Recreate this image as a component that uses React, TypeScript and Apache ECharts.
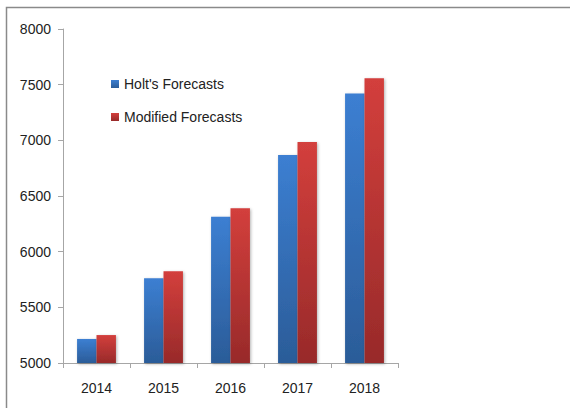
import React, { useEffect, useRef } from "react";
import * as echarts from "echarts";

const categories = ["2014", "2015", "2016", "2017", "2018"];
const holtForecasts = [5216, 5761, 6314, 6869, 7420];
const modifiedForecasts = [5251, 5824, 6390, 6986, 7558];
const seriesNames = ["Holt's Forecasts", "Modified Forecasts"];

const FONT = "'Liberation Sans', Arial, sans-serif";

export default function App() {
  const ref = useRef<HTMLDivElement>(null);
  useEffect(() => {
    if (!ref.current) return;
    const chart = echarts.init(ref.current, null, { renderer: "svg" });
    const grad = (top: string, bottom: string) =>
      new echarts.graphic.LinearGradient(0, 0, 0, 1, [
        { offset: 0, color: top },
        { offset: 1, color: bottom },
      ]);
    const shadow = {
      shadowBlur: 3,
      shadowColor: "rgba(0,0,0,0.3)",
      shadowOffsetX: 1,
      shadowOffsetY: 1,
    };
    chart.setOption({
      animation: false,
      backgroundColor: "#ffffff",
      textStyle: { fontFamily: FONT },
      graphic: [
        {
          type: "rect",
          shape: { x: 6.5, y: 7.5, width: 600, height: 450 },
          style: { fill: "none", stroke: "#8a8a8a", lineWidth: 1.5 },
          silent: true,
        },
      ],
      legend: {
        orient: "vertical",
        left: 111,
        top: 77,
        padding: 0,
        itemWidth: 8,
        itemHeight: 8,
        itemGap: 19,
        icon: "rect",
        textStyle: { fontSize: 14, color: "#222", fontFamily: FONT },
        data: seriesNames,
      },
      grid: { left: 63, right: 172, top: 29, bottom: 45 },
      xAxis: {
        type: "category",
        data: categories,
        boundaryGap: true,
        axisLine: { lineStyle: { color: "#a6a6a6", width: 1 } },
        axisTick: { show: true, length: 5, lineStyle: { color: "#a6a6a6" } },
        axisLabel: { fontSize: 14, color: "#222", margin: 18, fontFamily: FONT },
      },
      yAxis: {
        type: "value",
        min: 5000,
        max: 8000,
        interval: 500,
        splitLine: { show: false },
        axisLine: { show: true, lineStyle: { color: "#a6a6a6", width: 1 } },
        axisTick: { show: true, length: 5, lineStyle: { color: "#a6a6a6" } },
        axisLabel: {
          fontSize: 14,
          color: "#222",
          margin: 12,
          fontFamily: FONT,
          formatter: (v: number) => String(v),
        },
      },
      series: [
        {
          name: seriesNames[0],
          type: "bar",
          data: holtForecasts,
          barGap: "0%",
          barCategoryGap: "42%",
          itemStyle: { color: grad("#3c7fd2", "#2b5c98"), ...shadow },
        },
        {
          name: seriesNames[1],
          type: "bar",
          data: modifiedForecasts,
          barGap: "0%",
          barCategoryGap: "42%",
          itemStyle: { color: grad("#d33f3c", "#982a2a"), ...shadow },
        },
      ],
    });
    return () => chart.dispose();
  }, []);
  return (
    <div
      ref={ref}
      style={{ position: "fixed", left: 0, top: 0, width: 570, height: 408 }}
    />
  );
}
